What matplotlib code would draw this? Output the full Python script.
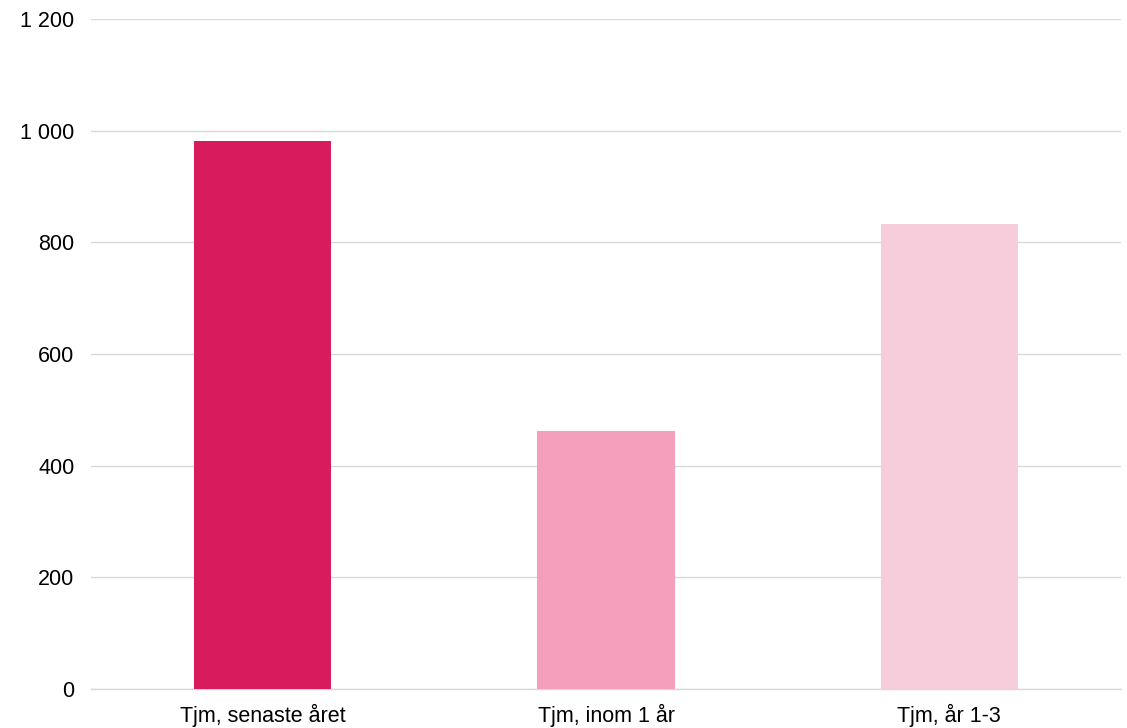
import matplotlib.pyplot as plt
from matplotlib.ticker import FuncFormatter

# Antal tjänstemän per kategori
categories = ["Tjm, senaste året", "Tjm, inom 1 år", "Tjm, år 1-3"]
values = [982, 462, 833]
colors = ["#D81B5C", "#F4A0BC", "#F8CDDB"]
y_ticks = [0, 200, 400, 600, 800, 1000, 1200]

plt.rcParams["font.family"] = ["Liberation Sans", "DejaVu Sans"]

fig = plt.figure(figsize=(11.27, 7.28), dpi=100)
ax = fig.add_axes([91 / 1127, 39 / 728, 1030 / 1127, 670 / 728])

x = range(len(categories))
ax.bar(x, values, width=0.4, color=colors, zorder=3)

ax.set_xlim(-0.5, len(categories) - 0.5)
ax.set_ylim(0, 1200)
ax.set_yticks(y_ticks)
ax.yaxis.set_major_formatter(FuncFormatter(lambda v, _: f"{int(v):,}".replace(",", " ")))
ax.set_xticks(list(x))
ax.set_xticklabels(categories)

ax.grid(axis="y", color="#D9D9D9", linewidth=1, zorder=0)
for side in ["top", "right", "left"]:
    ax.spines[side].set_visible(False)
ax.spines["bottom"].set_color("#D9D9D9")
ax.spines["bottom"].set_linewidth(1)

ax.tick_params(axis="y", length=0, pad=12, labelsize=15.5, labelcolor="#000000")
ax.tick_params(axis="x", length=0, pad=11, labelsize=15.5, labelcolor="#000000")

fig.savefig("out.png", dpi=100)
